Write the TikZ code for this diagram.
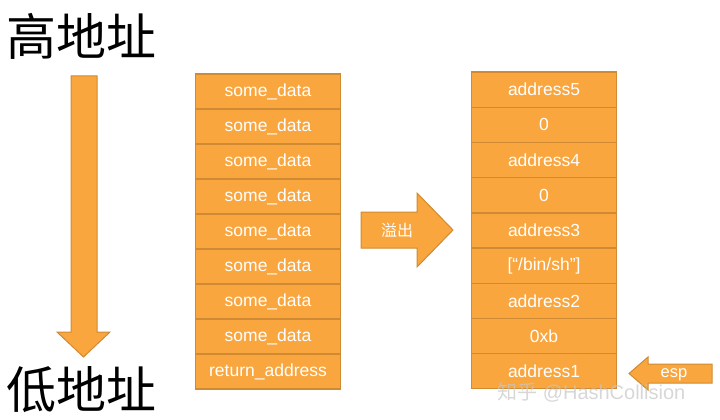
\documentclass[tikz,border=0pt]{standalone}
\usepackage{fontspec}
\setmainfont{Liberation Sans}
\newfontfamily\cjk{Noto Sans CJK SC}
\usetikzlibrary{positioning}
\definecolor{stackfill}{HTML}{F9A63F}
\definecolor{stackline}{HTML}{CF8A33}
\tikzset{
  cell/.style={draw=stackline,fill=stackfill,line width=1.2pt,minimum width=145pt,
    minimum height=35pt,inner sep=0pt,text=white,font=\fontsize{17.5}{19}\selectfont},
  bigarrow/.style={draw=stackline,fill=stackfill,line width=1pt,line join=miter},
  title/.style={anchor=west,inner sep=0pt,font=\cjk\fontsize{50}{52}\selectfont}
}
\begin{document}
\begin{tikzpicture}[x=1pt,y=-1pt]
  \useasboundingbox (0,0) rectangle (720,420);
  \node[title] (high) at (6,36) {高地址};
  \node[title] (low) at (6,390) {低地址};
  \draw[bigarrow] (71,76) -- (97,76) -- (97,332) -- (110,332) -- (83.5,357)
    -- (57,332) -- (71,332) -- cycle;
  \foreach \i/\txt in {1/some\_data,2/some\_data,3/some\_data,4/some\_data,
      5/some\_data,6/some\_data,7/some\_data,8/some\_data,9/return\_address}
    \node[cell] (L\i) at (268,{56.5+35*\i}) {\txt};
  \foreach \i/\txt in {1/address5,2/0,3/address4,4/0,5/address3,
      6/{[“/bin/sh”]},7/address2,8/0xb,9/address1}
    \node[cell] (R\i) at (544,{54.4+35.2*\i}) {\txt};
  \draw[bigarrow] (361,212) -- (417,212) -- (417,193) -- (453,230) -- (417,267)
    -- (417,248) -- (361,248) -- cycle;
  \node[text=white,font=\cjk\fontsize{16}{18}\selectfont] (overflow) at (397,230) {溢出};
  \draw[bigarrow] (712,364) -- (648,364) -- (648,357) -- (629,373.5) -- (648,390)
    -- (648,383) -- (712,383) -- cycle;
  \node[text=white,font=\fontsize{16.5}{18}\selectfont] (esp) at (674,375) {esp};
  \node[text=gray!45,opacity=.7,font=\fontsize{20}{22}\selectfont,anchor=west,inner sep=0pt]
    (mark) at (497,392) {{\cjk 知乎} @HashCollision};
\end{tikzpicture}
\end{document}
